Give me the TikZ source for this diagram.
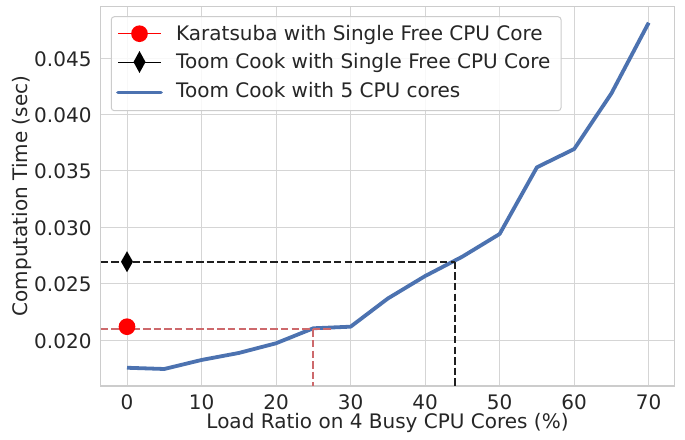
\documentclass[tikz,border=0pt]{standalone}
\usepackage{fontspec}
\setmainfont{DejaVu Sans}
\definecolor{txt}{HTML}{262626}
\definecolor{gridc}{HTML}{D5D5D5}
\definecolor{framec}{HTML}{CCCCCC}
\definecolor{sblue}{HTML}{4C72B0}
\definecolor{sred}{HTML}{C44E52}
\tikzset{
  gridline/.style={draw=gridc, line width=1pt},
  dataline/.style={draw=sblue, line width=3.8pt, line join=round},
  guidered/.style={draw=sred!85, line width=2pt, dash pattern=on 7.4pt off 3.2pt},
  guideblack/.style={draw=black!88, line width=2pt, dash pattern=on 7.4pt off 3.2pt},
  ticklab/.style={text=txt, inner sep=0pt},
  leglab/.style={text=txt, inner sep=0pt, anchor=base west},
}
\begin{document}
\begin{tikzpicture}[x=1pt,y=-1pt,font=\fontsize{20}{24}\selectfont]
\useasboundingbox (0,0) rectangle (685,439);
\fill[white] (0,0) rectangle (685,439);
% axes corners
\coordinate (axNW) at (100.7,6.7);
\coordinate (axSE) at (674.5,386);
% vertical grid + x tick labels
\foreach \v in {0,10,...,70}{
  \draw[gridline] ({127+7.453*\v},6.7) -- ({127+7.453*\v},386);
  \node[ticklab, anchor=base] (xt\v) at ({127+7.453*\v},409.5) {\v};
}
% horizontal grid + y tick labels
\foreach \m/\lab in {20/0.020,25/0.025,30/0.030,35/0.035,40/0.040,45/0.045}{
  \draw[gridline] (100.7,{565.6-11.28*\m}) -- (674.5,{565.6-11.28*\m});
  \node[ticklab, anchor=east] (yt\m) at (91.7,{565.6-11.28*\m+0.8}) {\lab};
}
% frame
\draw[framec, line width=1.25pt] (axNW) rectangle (axSE);
% axis labels
\node[text=txt, anchor=base, inner sep=0pt] (xlab) at (387.5,428.3) {Load Ratio on 4 Busy CPU Cores (\%)};
\node[text=txt, rotate=90, inner sep=0pt] (ylab) at (22,196) {Computation Time (sec)};
% data
\begin{scope}[shift={(127,565.6)}, x=7.453pt, y=11.28pt]
\draw[dataline] (0,17.54) -- (5,17.43) -- (10,18.23) -- (15,18.85) -- (20,19.71)
  -- (25,21.04) -- (30,21.18) -- (35,23.68) -- (40,25.67) -- (45,27.39)
  -- (50,29.40) -- (55,35.31) -- (60,36.93) -- (65,41.87) -- (70,48.13);
\end{scope}
% guide lines
\coordinate (rL) at (100.7,329.3);
\coordinate (rR) at (331,329.3);
\coordinate (rT) at (312.7,329.3);
\coordinate (rB) at (312.7,386);
\coordinate (kL) at (100.7,261.7);
\coordinate (kR) at (455.3,261.7);
\coordinate (kB) at (455.3,386);
\draw[guidered] (rL) -- (rR);
\draw[guidered] (rT) -- (rB);
\draw[guideblack] (kL) -- (kR);
\draw[guideblack] (kR) -- (kB);
% markers
\node[circle, fill=red, minimum size=16.7pt, inner sep=0pt] (kara) at (127,326.7) {};
\coordinate (toom) at (127,261.7);
\fill[black] ([yshift=-10.5pt]toom) -- ([xshift=6pt]toom) -- ([yshift=10.5pt]toom) -- ([xshift=-6pt]toom) -- cycle;
% legend
\draw[draw=framec, fill=white, fill opacity=0.85, rounded corners=3pt, line width=1pt] (111.3,16.7) rectangle (561,110.7);
\coordinate (l1a) at (118,33.7); \coordinate (l1b) at (161,33.7);
\coordinate (l2a) at (118,62); \coordinate (l2b) at (161,62);
\coordinate (l3a) at (118,92.5); \coordinate (l3b) at (161,92.5);
\draw[red, line width=1pt] (l1a) -- (l1b);
\node[circle, fill=red, minimum size=16.7pt, inner sep=0pt] (legk) at (139.5,33.7) {};
\draw[black, line width=1pt] (l2a) -- (l2b);
\coordinate (legt) at (139.5,62);
\fill[black] ([yshift=-11pt]legt) -- ([xshift=6pt]legt) -- ([yshift=11pt]legt) -- ([xshift=-6pt]legt) -- cycle;
\draw[dataline, line cap=round] (l3a) -- (l3b);
\node[leglab] (t1) at (176,40.7) {Karatsuba with Single Free CPU Core};
\node[leglab] (t2) at (176,68.5) {Toom Cook with Single Free CPU Core};
\node[leglab] (t3) at (176,97.3) {Toom Cook with 5 CPU cores};
\end{tikzpicture}
\end{document}
